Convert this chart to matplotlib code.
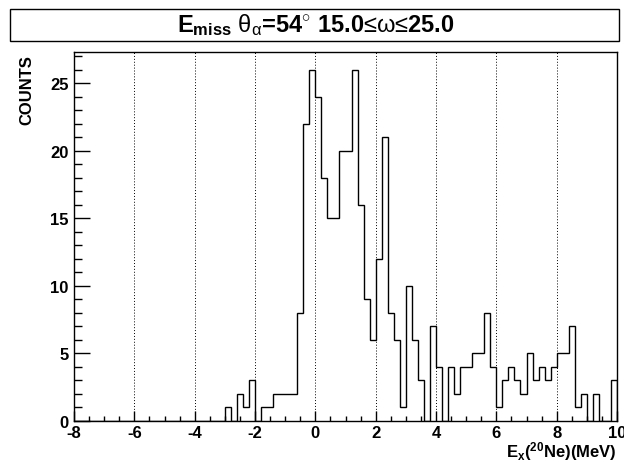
import numpy as np
import matplotlib
matplotlib.use("Agg")
import matplotlib.pyplot as plt
from matplotlib.patches import Rectangle
from matplotlib.ticker import MultipleLocator

plt.rcParams['font.family'] = ['Liberation Sans', 'DejaVu Sans']
plt.rcParams['font.weight'] = 'bold'
plt.rcParams['axes.unicode_minus'] = False
plt.rcParams['mathtext.fontset'] = 'custom'
plt.rcParams['mathtext.rm'] = 'Liberation Sans:normal'
plt.rcParams['mathtext.bf'] = 'Liberation Sans:bold'
plt.rcParams['mathtext.it'] = 'Liberation Sans:normal'
plt.rcParams['mathtext.default'] = 'rm'

# Histogram definition
x_low = -8.0
x_high = 10.0
n_bins = 90
counts = [0] * 25 + [
    1, 0, 2, 1, 3, 0, 1, 1, 2, 2,        # -3.0 .. -1.2
    2, 2, 8, 22, 26, 24, 18, 15, 15, 20,  # -1.0 .. 0.8
    20, 26, 16, 9, 6, 12, 21, 8, 6, 1,    # 1.0 .. 2.8
    10, 6, 3, 0, 7, 4, 0, 4, 2, 4,        # 3.0 .. 4.8
    4, 5, 5, 8, 4, 1, 3, 4, 3, 2,         # 5.0 .. 6.8
    5, 3, 4, 3, 4, 5, 5, 7, 1, 2,         # 7.0 .. 8.8
    0, 2, 0, 0, 3,                        # 9.0 .. 9.8
]
x_ticks = [-8, -6, -4, -2, 0, 2, 4, 6, 8, 10]
y_ticks = [0, 5, 10, 15, 20, 25]
y_max = 27.3

title = (r'E$_{\mathbf{miss}}$ $\mathrm{θ}_{\mathrm{α}}$=54$^{\mathrm{\circ}}$ '
         r'15.0$\mathrm{≤ω≤}$25.0')
x_label = r'E$_{\mathbf{x}}$($^{\mathbf{20}}$Ne)(MeV)'
y_label = 'COUNTS'

W, H = 624, 464
fig = plt.figure(figsize=(W / 100, H / 100), dpi=100)
L, R, T, B = 74, 617, 53.3, 421.7
ax = fig.add_axes([L / W, 1 - B / H, (R - L) / W, (B - T) / H])

edges = np.linspace(x_low, x_high, n_bins + 1)
ax.stairs(counts, edges, color='black', lw=1.0, baseline=0)

ax.set_xlim(x_low, x_high)
ax.set_ylim(0, y_max)
ax.set_xticks(x_ticks)
ax.set_yticks(y_ticks)
ax.xaxis.set_minor_locator(MultipleLocator(0.5))
ax.yaxis.set_minor_locator(MultipleLocator(1))
ax.tick_params(axis='both', which='both', direction='in', top=False, right=False,
               labelsize=12, width=1.0)
ax.tick_params(axis='x', which='major', length=7.5, pad=3.0)
ax.tick_params(axis='x', which='minor', length=3.8)
ax.tick_params(axis='y', which='major', length=11.5, pad=4.0)
ax.tick_params(axis='y', which='minor', length=5.8)
for lab in ax.get_xticklabels() + ax.get_yticklabels():
    lab.set_fontweight('bold')

ax.xaxis.grid(True, which='major', linestyle=(0, (1, 2)), color='black', lw=0.7)
for s in ax.spines.values():
    s.set_linewidth(1.0)

# Axis titles
fig.text(R / W, 1 - 457 / H, x_label, ha='right', va='baseline', fontsize=12,
         fontweight='bold')
fig.text(27 / W, 1 - 55 / H, y_label, ha='center', va='top', rotation=90,
         fontsize=12, fontweight='bold')

# Title box
fig.patches.append(Rectangle((10 / W, 1 - 41.5 / H), 609 / W, 31.5 / H,
                             transform=fig.transFigure, fill=False,
                             edgecolor='black', lw=1.0))
fig.text(315.5 / W, 1 - 31.7 / H, title, ha='center', va='baseline',
         fontsize=17, fontweight='bold')

fig.savefig('out.png', dpi=100)
